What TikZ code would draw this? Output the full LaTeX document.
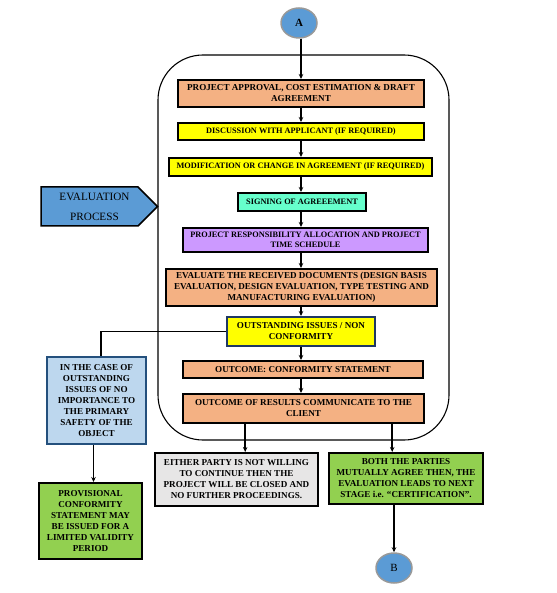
\documentclass[tikz,border=0pt]{standalone}
\usepackage{fontspec}
\setmainfont{Liberation Serif}
\usepackage{tikz}
\usetikzlibrary{calc, positioning, arrows.meta, shapes.geometric}
\definecolor{Salmon1}{RGB}{244,177,131}
\definecolor{Amarillo1}{RGB}{255,255,0}
\definecolor{Aqua1}{RGB}{102,255,204}
\definecolor{Lila1}{RGB}{204,153,255}
\definecolor{Azul1}{RGB}{91,155,213}
\definecolor{Celeste1}{RGB}{189,215,238}
\definecolor{Verde1}{RGB}{146,208,80}
\definecolor{Gris1}{RGB}{231,230,230}
\definecolor{Marino1}{RGB}{31,56,100}
\definecolor{Marino2}{RGB}{36,80,125}

\begin{document}
\begin{tikzpicture}[x=1pt, y=-1pt,
  stbox/.style={rectangle, draw=black, line width=2pt, fill=#1,
                align=center, inner sep=1pt,
                font=\bfseries\fontsize{9.1}{11}\selectfont},
  smbox/.style={stbox=#1, font=\bfseries\fontsize{8.3}{10}\selectfont},
  endpt/.style={ellipse, draw=gray!80, line width=1.5pt, fill=Azul1,
                minimum width=36pt, minimum height=30pt, inner sep=0pt,
                font=\fontsize{11}{13}\selectfont},
  arr/.style={-{Stealth[length=5pt, width=4.5pt]}, line width=1.8pt},
  lin/.style={line width=1.8pt}
]
\useasboundingbox (0,0) rectangle (556,593);

%% Marco del proceso
\node[draw, line width=1.1pt, rounded corners=45pt, inner sep=0pt,
      minimum width=291pt, minimum height=385pt] (marco) at (303.5,247.5) {};
\coordinate (eje) at (301,0);

%% Etiqueta lateral
\draw[line width=1.5pt, fill=Azul1] (41,187) -- (138,187) -- (marco.west |- 0,206.5)
  -- (138,226) -- (41,226) -- cycle;
\node[align=center, inner sep=0pt, font=\fontsize{11.2}{20}\selectfont]
  (eval) at (94.5,206.5) {EVALUATION\\PROCESS};

%% Conector de entrada
\node[endpt, font=\bfseries\fontsize{11}{13}\selectfont] (A) at (299,23) {A};

%% Etapas dentro del marco
\node[stbox=Salmon1, minimum width=246pt, minimum height=27pt] (box1) at (301,93.5)
  {PROJECT APPROVAL, COST ESTIMATION \& DRAFT\\AGREEMENT};
\node[smbox=Amarillo1, minimum width=246pt, minimum height=17pt] (box2) at (301,131.5)
  {DISCUSSION WITH APPLICANT (IF REQUIRED)};
\node[smbox=Amarillo1, minimum width=263pt, minimum height=18pt] (box3) at (300.5,167)
  {MODIFICATION OR CHANGE IN AGREEMENT (IF REQUIRED)};
\node[smbox=Aqua1, minimum width=128pt, minimum height=18pt] (box4) at (302,202)
  {SIGNING OF AGREEEMENT};
\node[smbox=Lila1, minimum width=245pt, minimum height=24pt] (box5) at (305.5,240)
  {PROJECT RESPONSIBILITY ALLOCATION AND PROJECT\\TIME SCHEDULE};
\node[stbox=Salmon1, minimum width=271pt, minimum height=37pt] (box6) at (301.5,287.5)
  {EVALUATE THE RECEIVED DOCUMENTS (DESIGN BASIS\\EVALUATION, DESIGN EVALUATION, TYPE TESTING AND\\MANUFACTURING EVALUATION)};
\node[stbox=Amarillo1, draw=Marino1, minimum width=148pt, minimum height=29pt] (box7) at (301,331.5)
  {OUTSTANDING ISSUES / NON\\CONFORMITY};
\node[stbox=Salmon1, minimum width=240pt, minimum height=17pt] (box8) at (303,369.5)
  {OUTCOME: CONFORMITY STATEMENT};
\node[stbox=Salmon1, minimum width=241pt, minimum height=29pt] (box9) at (303.5,408.5)
  {OUTCOME OF RESULTS COMMUNICATE TO THE\\CLIENT};

%% Rama izquierda
\node[stbox=Celeste1, draw=Marino2, minimum width=99pt, minimum height=87pt] (caso) at (96.5,400.5)
  {IN THE CASE OF\\OUTSTANDING\\ISSUES OF NO\\IMPORTANCE TO\\THE PRIMARY\\SAFETY OF THE\\OBJECT};
\node[stbox=Verde1, minimum width=103pt, minimum height=76pt] (prov) at (90.5,521)
  {PROVISIONAL\\CONFORMITY\\STATEMENT MAY\\BE ISSUED FOR A\\LIMITED VALIDITY\\PERIOD};

%% Resultados finales
\node[stbox=Gris1, minimum width=163pt, minimum height=53pt] (cierre) at (236.5,479.5)
  {EITHER PARTY IS NOT WILLING\\TO CONTINUE THEN THE\\PROJECT WILL BE CLOSED AND\\NO FURTHER PROCEEDINGS.};
\node[stbox=Verde1, minimum width=154pt, minimum height=51pt] (acuerdo) at (406,478.5)
  {BOTH THE PARTIES\\MUTUALLY AGREE THEN, THE\\EVALUATION LEADS TO NEXT\\STAGE i.e. “CERTIFICATION”.};

%% Conector de salida
\node[endpt] (B) at (394,568) {B};

\coordinate (p1) at ($(box9.south west)!0.26!(box9.south east)$);
\coordinate (p2) at ($(box9.south west)!0.865!(box9.south east)$);

\draw[arr] (A.south -| eje) -- (box1.north -| eje);
\draw[arr] (box1.south -| eje) -- (box2.north -| eje);
\draw[arr] (box2.south -| eje) -- (box3.north -| eje);
\draw[arr] (box3.south -| eje) -- (box4.north -| eje);
\draw[arr] (box4.south -| eje) -- (box5.north -| eje);
\draw[arr] (box5.south -| eje) -- (box6.north -| eje);
\draw[arr] (box6.south -| eje) -- (box7.north -| eje);
\draw[arr] (box7.south -| eje) -- (box8.north -| eje);
\draw[arr] (box8.south -| eje) -- (box9.north -| eje);
\draw[lin] (box7.west) -| ([xshift=4.5pt]caso.north);
\draw[arr] ([xshift=-3pt]caso.south) -- ([xshift=-3pt]caso.south |- prov.north);
\draw[arr] (p1) -- (p1 |- cierre.north);
\draw[arr] (p2) -- (p2 |- acuerdo.north);
\draw[arr] (B.north |- acuerdo.south) -- (B.north);

\end{tikzpicture}
\end{document}
